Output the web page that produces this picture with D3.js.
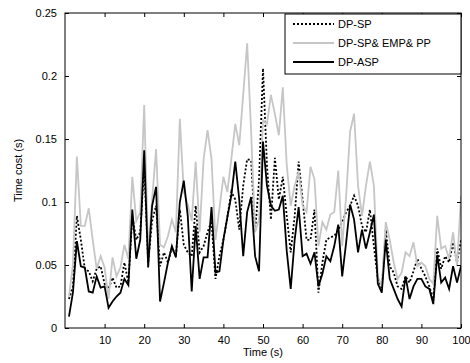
<!DOCTYPE html>
<html>
<head>
<meta charset="utf-8">
<script src="https://cdn.jsdelivr.net/npm/d3@7"></script>
<style>
  body { margin: 0; background: #fff; }
  text { font-family: "Liberation Sans", Arial, sans-serif; font-size: 11px; fill: #000; }
</style>
</head>
<body>
<div id="chart"></div>
<script>
// time steps 1..100
const timeSteps = d3.range(1, 101);

const dpSp = [
  0.023, 0.033, 0.089, 0.070, 0.047, 0.045, 0.037, 0.047, 0.049, 0.035,
  0.031, 0.040, 0.032, 0.033, 0.052, 0.036, 0.089, 0.070, 0.076, 0.129,
  0.052, 0.085, 0.097, 0.049, 0.060, 0.052, 0.064, 0.057, 0.094, 0.066,
  0.060, 0.057, 0.097, 0.060, 0.065, 0.076, 0.085, 0.039, 0.057, 0.070,
  0.088, 0.108, 0.102, 0.078, 0.113, 0.134, 0.133, 0.076, 0.117, 0.206,
  0.129, 0.086, 0.135, 0.102, 0.120, 0.089, 0.060, 0.089, 0.132, 0.102,
  0.070, 0.070, 0.094, 0.028, 0.052, 0.070, 0.072, 0.073, 0.078, 0.084,
  0.092, 0.097, 0.105, 0.097, 0.081, 0.076, 0.094, 0.065, 0.039, 0.031,
  0.078, 0.049, 0.044, 0.033, 0.031, 0.041, 0.036, 0.045, 0.055, 0.047,
  0.041, 0.033, 0.023, 0.063, 0.047, 0.057, 0.052, 0.068, 0.052, 0.070
];

const dpSpEmpPp = [
  0.025, 0.050, 0.136, 0.081, 0.081, 0.095, 0.070, 0.047, 0.057, 0.048,
  0.023, 0.056, 0.041, 0.048, 0.066, 0.055, 0.120, 0.085, 0.092, 0.177,
  0.060, 0.102, 0.142, 0.066, 0.064, 0.073, 0.086, 0.076, 0.166, 0.108,
  0.098, 0.085, 0.132, 0.076, 0.134, 0.157, 0.134, 0.070, 0.095, 0.120,
  0.108, 0.134, 0.162, 0.145, 0.185, 0.226, 0.156, 0.076, 0.086, 0.165,
  0.162, 0.185, 0.170, 0.153, 0.191, 0.129, 0.097, 0.113, 0.124, 0.097,
  0.092, 0.128, 0.118, 0.065, 0.084, 0.078, 0.090, 0.092, 0.125, 0.065,
  0.105, 0.156, 0.170, 0.113, 0.089, 0.113, 0.132, 0.113, 0.041, 0.033,
  0.084, 0.070, 0.052, 0.039, 0.044, 0.060, 0.057, 0.068, 0.049, 0.052,
  0.049, 0.039, 0.035, 0.089, 0.063, 0.065, 0.055, 0.076, 0.049, 0.105
];

const dpAsp = [
  0.009, 0.028, 0.069, 0.049, 0.048, 0.029, 0.028, 0.041, 0.032, 0.033,
  0.016, 0.021, 0.025, 0.028, 0.039, 0.034, 0.094, 0.055, 0.070, 0.141,
  0.048, 0.097, 0.112, 0.021, 0.036, 0.052, 0.065, 0.056, 0.100, 0.117,
  0.089, 0.029, 0.081, 0.039, 0.056, 0.056, 0.096, 0.044, 0.045, 0.070,
  0.088, 0.105, 0.132, 0.102, 0.057, 0.092, 0.104, 0.057, 0.045, 0.148,
  0.113, 0.097, 0.093, 0.094, 0.105, 0.061, 0.031, 0.070, 0.096, 0.057,
  0.059, 0.051, 0.060, 0.033, 0.043, 0.057, 0.053, 0.065, 0.082, 0.041,
  0.068, 0.098, 0.086, 0.060, 0.078, 0.063, 0.076, 0.090, 0.035, 0.028,
  0.070, 0.039, 0.031, 0.023, 0.017, 0.041, 0.023, 0.033, 0.039, 0.039,
  0.033, 0.031, 0.019, 0.058, 0.036, 0.040, 0.031, 0.049, 0.036, 0.049
];

const seriesNames = ['DP-SP', 'DP-SP& EMP& PP', 'DP-ASP'];
const xTicks = [10, 20, 30, 40, 50, 60, 70, 80, 90, 100];
const yTicks = [0, 0.05, 0.1, 0.15, 0.2, 0.25];

const width = 470;
const height = 363;
const margin = { top: 13, right: 9, bottom: 35, left: 65 };
const plotWidth = width - margin.left - margin.right;
const plotHeight = height - margin.top - margin.bottom;

const svg = d3.select('#chart')
  .append('svg')
    .attr('width', width)
    .attr('height', height);

const plot = svg.append('g')
  .attr('transform', `translate(${margin.left},${margin.top})`);

const xScale = d3.scaleLinear().domain([0, 100]).range([0, plotWidth]);
const yScale = d3.scaleLinear().domain([0, 0.25]).range([plotHeight, 0]);

// clip to the axes box
svg.append('defs').append('clipPath').attr('id', 'clip')
  .append('rect').attr('width', plotWidth).attr('height', plotHeight);

const lines = plot.append('g').attr('clip-path', 'url(#clip)');

const line = d3.line()
  .x((d, i) => xScale(timeSteps[i]))
  .y(d => yScale(d));

const styles = [
  { data: dpSp, color: '#000', width: 1.8, dash: '2,2' },
  { data: dpSpEmpPp, color: '#c6c6c6', width: 1.8, dash: null },
  { data: dpAsp, color: '#000', width: 1.8, dash: null }
];

styles.forEach(s => {
  lines.append('path')
    .datum(s.data)
    .attr('fill', 'none')
    .attr('stroke', s.color)
    .attr('stroke-width', s.width)
    .attr('stroke-dasharray', s.dash)
    .attr('stroke-linejoin', 'miter')
    .attr('d', line);
});

// axes, matlab style: ticks pointing inwards on all four sides
const xAxis = d3.axisBottom(xScale).tickValues(xTicks).tickSizeInner(-4).tickSizeOuter(0).tickPadding(8);
const yAxis = d3.axisLeft(yScale).tickValues(yTicks).tickFormat(d3.format('')).tickSizeInner(-4).tickSizeOuter(0).tickPadding(8);

const xg = plot.append('g').attr('transform', `translate(0,${plotHeight})`).call(xAxis);
const yg = plot.append('g').call(yAxis);
plot.append('g').call(d3.axisTop(xScale).tickValues(xTicks).tickSize(-4).tickFormat(''));
plot.append('g').attr('transform', `translate(${plotWidth},0)`)
  .call(d3.axisRight(yScale).tickValues(yTicks).tickSize(-4).tickFormat(''));

plot.selectAll('.domain').remove();
plot.selectAll('.tick line').attr('stroke', '#000');
plot.selectAll('.tick text').style('font-size', '11px').attr('fill', '#000');

plot.append('rect')
  .attr('width', plotWidth)
  .attr('height', plotHeight)
  .attr('fill', 'none')
  .attr('stroke', '#000')
  .attr('stroke-width', 1);

// axis labels
svg.append('text')
  .attr('x', margin.left + plotWidth / 2)
  .attr('y', 356)
  .attr('text-anchor', 'middle')
  .text('Time (s)');

svg.append('text')
  .attr('transform', `translate(22,${margin.top + plotHeight / 2}) rotate(-90)`)
  .attr('text-anchor', 'middle')
  .text('Time cost (s)');

// legend
const legend = svg.append('g').attr('transform', 'translate(285,14)');
legend.append('rect')
  .attr('width', 176)
  .attr('height', 60)
  .attr('fill', '#fff')
  .attr('stroke', '#000');

styles.forEach((s, i) => {
  const y = 10 + i * 19;
  legend.append('line')
    .attr('x1', 8).attr('x2', 49)
    .attr('y1', y).attr('y2', y)
    .attr('stroke', s.color)
    .attr('stroke-width', s.width)
    .attr('stroke-dasharray', s.dash);
  legend.append('text')
    .attr('x', 53)
    .attr('y', y + 4)
    .text(seriesNames[i]);
});
</script>
</body>
</html>
